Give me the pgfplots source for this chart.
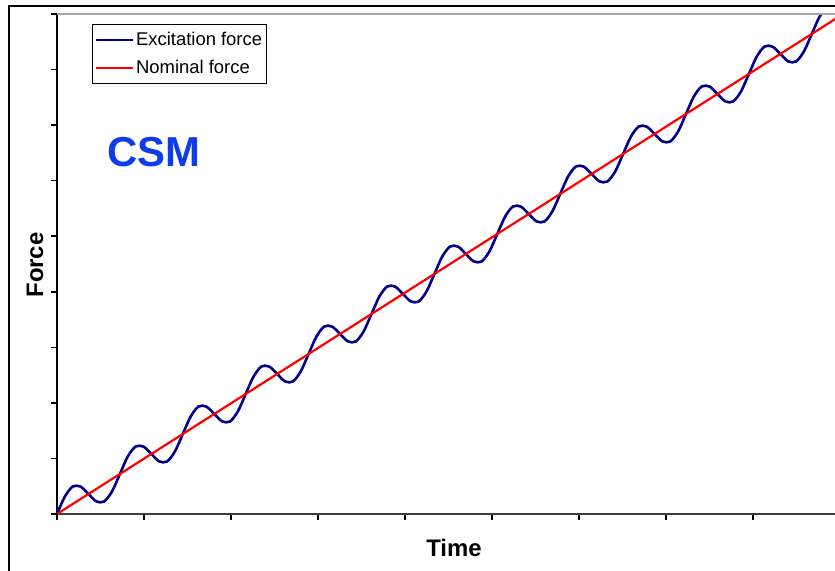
\documentclass[border=0pt]{standalone}
\usepackage{fontspec}
\setmainfont{Liberation Sans}
\usepackage{pgfplots}
\pgfplotsset{compat=1.18}
\definecolor{excblue}{RGB}{0,0,140}
\definecolor{csmblue}{RGB}{15,60,235}
\begin{document}
\begin{tikzpicture}[x=1bp,y=1bp]
\useasboundingbox (0,0) rectangle (835,571);
\fill[white] (0,0) rectangle (835,571);
% frame of the whole figure
\draw[black, line width=2bp] (9,-10) -- (9,564.5) -- (850,564.5);
\begin{axis}[
  at={(57bp,57bp)}, anchor=south west,
  scale only axis, width=778bp, height=500bp,
  xmin=0, xmax=8.943, ymin=0, ymax=9,
  axis x line*=bottom, axis y line*=left,
  axis line style={-},
  x axis line style={draw=black!75, line width=2bp},
  y axis line style={draw=black, line width=2bp},
  xtick={0,1,...,8}, ytick={0,1,...,9},
  xticklabels={,,}, yticklabels={,,},
  tick align=outside, major tick length=6bp,
  tick style={black, line width=1.6bp},
  legend style={at={(axis description cs:0.045,0.98)}, anchor=north west,
    draw=black, line width=1bp, font=\fontsize{18.5}{21}\selectfont,
    inner xsep=2bp, inner ysep=6bp, row sep=9bp, cells={anchor=west, inner xsep=4.5bp}},
  legend image code/.code={\path (0bp,0bp) -- (37bp,0bp);
    \draw[#1, line width=2bp] (0bp,0bp) -- (33bp,0bp);},
]
% excitation force: nominal ramp with superimposed oscillation
\addplot[excblue, line width=2.6bp, smooth] coordinates {
(0.000,0.000) (0.090,0.313) (0.181,0.495) (0.271,0.493) (0.362,0.360) (0.452,0.227) (0.542,0.225) (0.633,0.407)
(0.723,0.720) (0.813,1.033) (0.904,1.215) (0.994,1.213) (1.085,1.080) (1.175,0.947) (1.265,0.945) (1.356,1.127)
(1.446,1.440) (1.536,1.753) (1.627,1.935) (1.717,1.933) (1.808,1.800) (1.898,1.667) (1.988,1.665) (2.079,1.847)
(2.169,2.160) (2.259,2.473) (2.350,2.655) (2.440,2.653) (2.531,2.520) (2.621,2.387) (2.711,2.385) (2.802,2.567)
(2.892,2.880) (2.982,3.193) (3.073,3.375) (3.163,3.373) (3.254,3.240) (3.344,3.107) (3.434,3.105) (3.525,3.287)
(3.615,3.600) (3.705,3.913) (3.796,4.095) (3.886,4.093) (3.977,3.960) (4.067,3.827) (4.157,3.825) (4.248,4.007)
(4.338,4.320) (4.428,4.633) (4.519,4.815) (4.609,4.813) (4.700,4.680) (4.790,4.547) (4.880,4.545) (4.971,4.727)
(5.061,5.040) (5.151,5.353) (5.242,5.535) (5.332,5.533) (5.423,5.400) (5.513,5.267) (5.603,5.265) (5.694,5.447)
(5.784,5.760) (5.874,6.073) (5.965,6.255) (6.055,6.253) (6.146,6.120) (6.236,5.987) (6.326,5.985) (6.417,6.167)
(6.507,6.480) (6.597,6.793) (6.688,6.975) (6.778,6.973) (6.869,6.840) (6.959,6.707) (7.049,6.705) (7.140,6.887)
(7.230,7.200) (7.320,7.513) (7.411,7.695) (7.501,7.693) (7.592,7.560) (7.682,7.427) (7.772,7.425) (7.863,7.607)
(7.953,7.920) (8.043,8.233) (8.134,8.415) (8.224,8.413) (8.315,8.280) (8.405,8.147) (8.495,8.145) (8.586,8.327)
(8.676,8.640) (8.766,8.953) (8.857,9.135) (8.947,9.133)
};
\addlegendentry{Excitation force}
% nominal force: straight ramp
\addplot[red, line width=2.2bp] coordinates {(0,0) (8.943,8.907)};
\addlegendentry{Nominal force}
% grey upper border of the plot area
\draw[black!35, line width=2bp] (rel axis cs:0,1) -- (rel axis cs:1,1);
\end{axis}
\node[csmblue, font=\fontsize{42}{46}\selectfont\bfseries] at (154,419) {CSM};
\node[font=\fontsize{24}{28}\selectfont\bfseries] at (454,23) {Time};
\node[font=\fontsize{24}{28}\selectfont\bfseries, rotate=90] at (35,306) {Force};
\end{tikzpicture}
\end{document}
